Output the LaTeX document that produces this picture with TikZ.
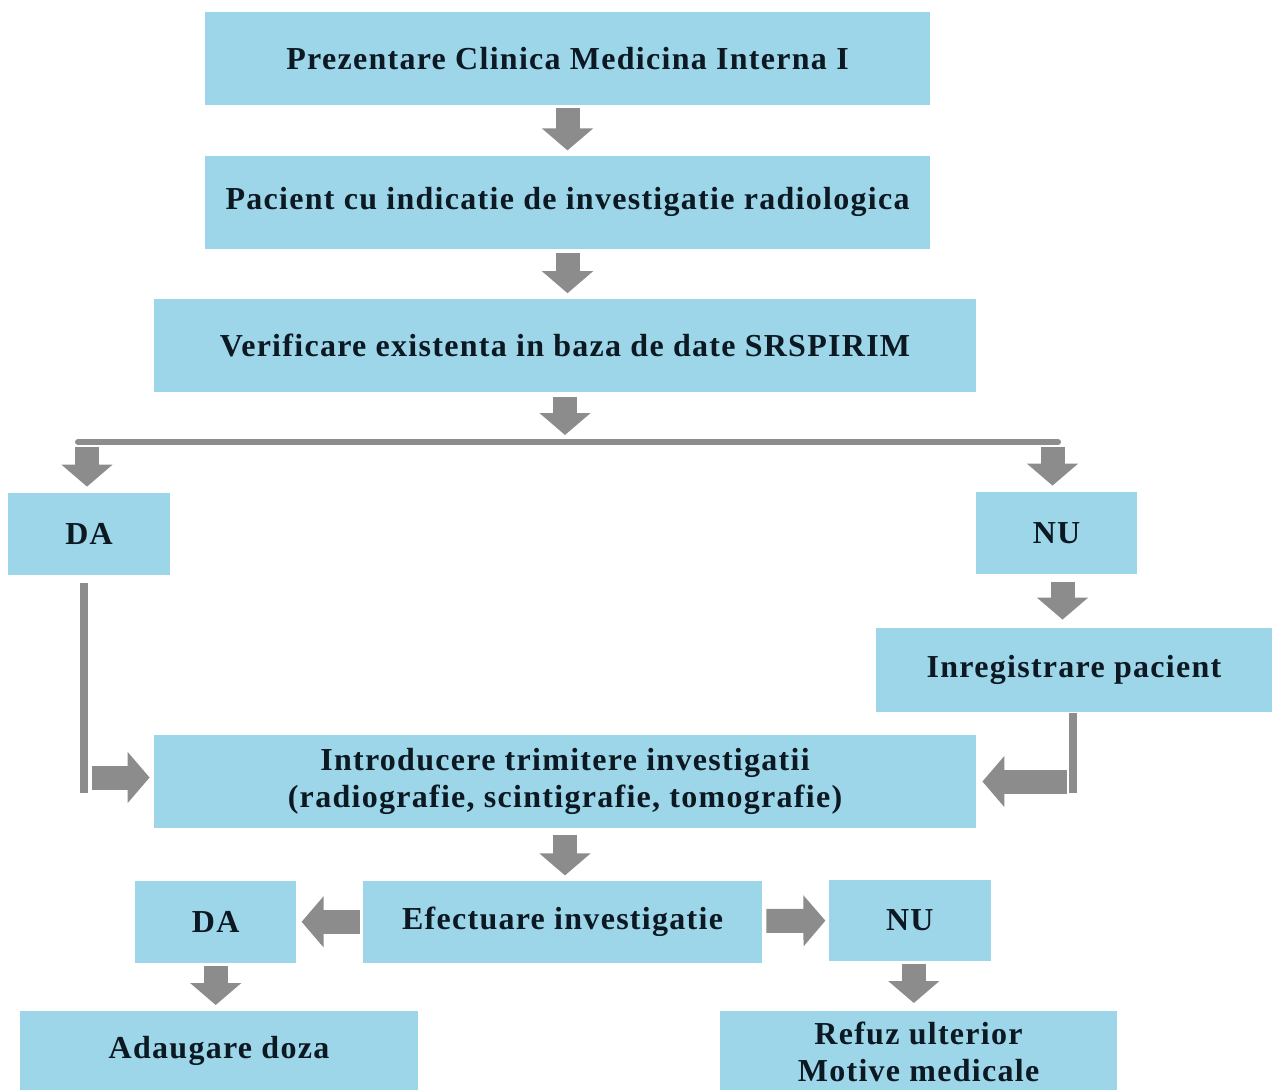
\documentclass[tikz,border=0pt]{standalone}
\usepackage{fontspec}
\setmainfont[LetterSpace=4]{Liberation Serif}
\usepackage{xcolor}
\usepackage{tikz}
\usetikzlibrary{positioning,arrows.meta}

\definecolor{boxblue}{RGB}{156,214,232}
\definecolor{flowgray}{RGB}{140,140,140}
\definecolor{inkdark}{RGB}{12,24,34}

\begin{document}
\begin{tikzpicture}[
  x=0.5pt, y=-0.5pt,
  stepbox/.style={
    rectangle, fill=boxblue, text=inkdark, inner sep=0pt,
    align=center, minimum height=46.5pt,
    font=\bfseries\fontsize{16}{18.5}\selectfont
  },
  flow/.style={-{Triangle[length=11pt,width=25pt]}, line width=12pt, flowgray},
  bar/.style={line width=3pt, line cap=round, flowgray},
  elbow/.style={line width=4pt, flowgray}
]
\useasboundingbox (0,0) rectangle (1272,1089);

% Main column
\node[stepbox, minimum width=362.5pt] at (567.5,58.5) (pz) {Prezentare Clinica Medicina Interna I};
\node[stepbox, minimum width=362.5pt, below=25pt of pz] (pc) {Pacient cu indicatie de investigatie radiologica};
\node[stepbox, minimum width=411pt, below=24.5pt of pc, xshift=-1.25pt] (vf) {Verificare existenta in baza de date SRSPIRIM};

% Branches DA / NU
\coordinate (barL) at (78,442);
\coordinate (barR) at (1058,442);
\node[stepbox, minimum width=81pt, minimum height=41pt] at (89,534) (da1) {DA};
\node[stepbox, minimum width=80.5pt, minimum height=41pt] at (1056.5,533) (nu1) {NU};
\node[stepbox, minimum width=198pt, minimum height=42pt] at (1074,670) (ir) {Inregistrare pacient};

\node[stepbox, minimum width=411pt] at (565,781.5) (intro) {Introducere trimitere investigatii\\(radiografie, scintigrafie, tomografie)};

% Lower row
\node[stepbox, minimum width=199.5pt, minimum height=41pt, below=26pt of intro, xshift=-1.25pt] (ef) {Efectuare investigatie};
\node[stepbox, minimum width=80.5pt, minimum height=41pt, left=33pt of ef] (da2) {DA};
\node[stepbox, minimum width=81pt, minimum height=40.5pt, right=33pt of ef, yshift=0.75pt] (nu2) {NU};
\node[stepbox, minimum width=199pt, minimum height=40pt, anchor=north] at (219,1011) (ad) {Adaugare doza};
\node[stepbox, minimum width=198.5pt, minimum height=40pt, anchor=north] at (918.5,1011) (rf) {Refuz ulterior\\Motive medicale};

\coordinate (daC) at (84,793);
\coordinate (irC) at (1073,793);

% Arrows down the column
\draw[flow, shorten <=1.5pt, shorten >=2.5pt] (pz) -- (pc);
\draw[flow, shorten <=2pt, shorten >=2.5pt] (pc) -- (pc.south |- vf.north);
\draw[flow, shorten <=2.5pt, shorten >=3.5pt] (vf.south) -- (vf.south |- barL);

% Split bar
\draw[bar] (barL) -- (barR);
\draw[flow, shorten <=2.5pt, shorten >=3pt] ([xshift=-1pt]da1.north |- barL) -- ([xshift=-1pt]da1.north);
\draw[flow, shorten <=2.5pt, shorten >=3pt] ([xshift=-2pt]nu1.north |- barR) -- ([xshift=-2pt]nu1.north);
\draw[flow, shorten <=4pt, shorten >=4pt] ([xshift=3pt]nu1.south) -- ([xshift=3pt]nu1.south |- ir.north);

% Into Introducere
\draw[elbow, shorten <=4pt] (da1.south -| daC) -- (daC);
\draw[flow, shorten <=4pt, shorten >=2pt] ([yshift=2pt]daC |- intro.west) -- ([yshift=2pt]intro.west);
\draw[elbow, shorten <=0.5pt] (ir.south -| irC) -- (irC);
\draw[flow, shorten <=3pt, shorten >=3pt] (irC |- intro.east) -- (intro.east);

% Lower flow
\draw[flow, shorten <=3.5pt, shorten >=2.5pt] (intro.south) -- (intro.south |- ef.north);
\draw[flow, shorten <=1.5pt, shorten >=2.5pt] (ef) -- (da2);
\draw[flow, shorten <=2pt, shorten >=1.5pt] (ef) -- (nu2);
\draw[flow, shorten <=1.5pt, shorten >=3pt] (da2.south) -- (da2.south |- ad.north);
\draw[flow, shorten <=1.5pt, shorten >=4pt] ([xshift=2pt]nu2.south) -- ([xshift=2pt]nu2.south |- rf.north);

\end{tikzpicture}
\end{document}
